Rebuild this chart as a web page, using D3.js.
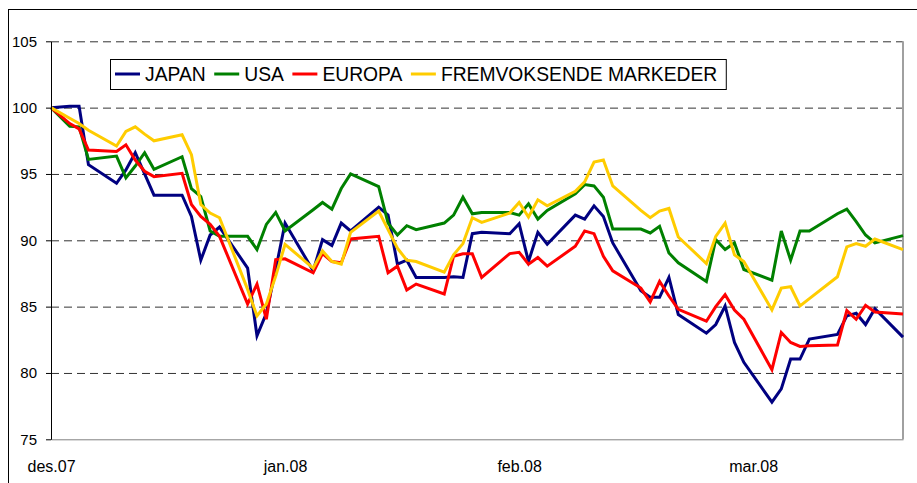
<!DOCTYPE html>
<html>
<head>
<meta charset="utf-8">
<script src="https://cdn.jsdelivr.net/npm/d3@7"></script>
<style>
  body { margin: 0; background: #fff; }
  svg { display: block; font-family: Arial, "Liberation Sans", sans-serif; }
</style>
</head>
<body>
<div id="wrapper"></div>
<script>
// Data (index 31.12.2007 = 100)
const dates = [
  "2007-12-31",
  "2008-01-02", "2008-01-03", "2008-01-04",
  "2008-01-07", "2008-01-08", "2008-01-09", "2008-01-10", "2008-01-11",
  "2008-01-14", "2008-01-15", "2008-01-16", "2008-01-17", "2008-01-18",
  "2008-01-21", "2008-01-22", "2008-01-23", "2008-01-24", "2008-01-25",
  "2008-01-28", "2008-01-29", "2008-01-30", "2008-01-31", "2008-02-01",
  "2008-02-04", "2008-02-05", "2008-02-06", "2008-02-07", "2008-02-08",
  "2008-02-11", "2008-02-12", "2008-02-13", "2008-02-14", "2008-02-15",
  "2008-02-18", "2008-02-19", "2008-02-20", "2008-02-21", "2008-02-22",
  "2008-02-25", "2008-02-26", "2008-02-27", "2008-02-28", "2008-02-29",
  "2008-03-03", "2008-03-04", "2008-03-05", "2008-03-06", "2008-03-07",
  "2008-03-10", "2008-03-11", "2008-03-12", "2008-03-13", "2008-03-14",
  "2008-03-17", "2008-03-18", "2008-03-19", "2008-03-20", "2008-03-21",
  "2008-03-24", "2008-03-25", "2008-03-26", "2008-03-27", "2008-03-28",
  "2008-03-31",
];
const japan = [
  100,
  100.1, 100.1, 95.7,
  94.3, 95.3, 96.6, 95.0, 93.4,
  93.4, 91.8, 88.5, 90.4, 91.0,
  87.9, 82.8, 84.5, 87.8, 91.3,
  87.7, 90.05, 89.6, 91.3, 90.7,
  92.5, 91.9, 88.2, 88.5, 87.2,
  87.2, 87.25, 87.2, 90.5, 90.6,
  90.5, 91.25, 88.4, 90.6, 89.7,
  91.9, 91.6, 92.6, 91.8, 89.8,
  86.2, 85.7, 85.7, 87.2, 84.4,
  83.0, 83.65, 85.05, 82.3, 80.8,
  77.8, 78.8, 81.05, 81.05, 82.55,
  82.9, 84.3, 84.5, 83.65, 84.85,
  82.7,
];
const usa = [
  100,
  98.6, 98.55, 96.1,
  96.35, 94.7, 95.6, 96.6, 95.35,
  96.3, 93.9, 93.3, 90.7, 90.3,
  90.3, 89.3, 91.2, 92.1, 90.7,
  92.3, 92.85, 92.35, 93.9, 95.0,
  94.05, 91.3, 90.4, 91.1, 90.8,
  91.3, 91.9, 93.25, 92.0, 92.1,
  92.1, 91.9, 92.75, 91.6, 92.25,
  93.5, 94.2, 94.1, 93.25, 90.85,
  90.85, 90.55, 91.05, 89.05, 88.3,
  86.9, 90.05, 89.3, 89.8, 87.8,
  87.0, 90.7, 88.5, 90.7, 90.7,
  92.0, 92.35, 91.4, 90.4, 89.8,
  90.35,
];
const europa = [
  100,
  98.8, 98.4, 96.8,
  96.7, 97.2, 96.05, 95.2, 94.8,
  95.05, 92.7, 91.8, 91.2, 90.3,
  85.2, 86.7, 84.05, 88.55, 88.6,
  87.55, 89.0, 88.4, 88.3, 90.1,
  90.3, 87.55, 88.05, 86.25, 86.7,
  85.95, 88.8, 88.98, 88.98, 87.2,
  89.0, 89.1, 88.2, 88.7, 88.05,
  89.55, 90.7, 90.5, 88.8, 87.7,
  86.4, 85.35, 86.9, 85.8, 84.8,
  83.9, 85.0, 85.9, 84.75, 84.05,
  80.25, 83.05, 82.3, 82.0, 82.05,
  82.1, 84.7, 84.05, 85.1, 84.6,
  84.45,
];
const fremvoksende = [
  100,
  99.2, 98.8, 98.3,
  97.1, 98.2, 98.55, 98.0, 97.5,
  97.95, 96.45, 92.7, 92.05, 91.7,
  86.3, 84.3, 85.2, 87.3, 89.7,
  87.9, 89.2, 88.4, 88.2, 90.6,
  92.2, 90.8, 89.4, 88.5, 88.4,
  87.6, 88.9, 89.75, 91.7, 91.35,
  92.05, 92.85, 91.75, 93.05, 92.6,
  93.7, 94.4, 95.9, 96.05, 94.1,
  92.25, 91.7, 92.2, 92.4, 90.25,
  88.25, 90.3, 91.3, 88.9, 88.4,
  84.75, 86.4, 86.5, 85.05, 85.6,
  87.25, 89.5, 89.75, 89.55, 90.1,
  89.3,
];
const seriesNames = ["JAPAN", "USA", "EUROPA", "FREMVOKSENDE MARKEDER"];
const seriesValues = [japan, usa, europa, fremvoksende];
const seriesColors = ["#000080", "#008000", "#ff0000", "#ffcc00"];
const yTicks = [75, 80, 85, 90, 95, 100, 105];
const xStart = "2007-12-31";
const xEnd = "2008-03-31";
const xTickDates = ["2007-12-31", "2008-01-25", "2008-02-19", "2008-03-15"];
const monthNames = ["jan", "feb", "mar", "apr", "mai", "jun", "jul", "aug", "sep", "okt", "nov", "des"];

const parseDate = d3.timeParse("%Y-%m-%d");
const formatTick = (d) => `${monthNames[d.getMonth()]}.${d3.timeFormat("%y")(d)}`;

// Chart dimensions
let dimensions = {
  width: 917,
  height: 483,
  margin: { top: 41.3, right: 14, bottom: 43.7, left: 51 },
};
dimensions.boundedWidth = dimensions.width - dimensions.margin.left - dimensions.margin.right;
dimensions.boundedHeight = dimensions.height - dimensions.margin.top - dimensions.margin.bottom;

const wrapper = d3
  .select("#wrapper")
  .append("svg")
  .attr("width", dimensions.width)
  .attr("height", dimensions.height);

// outer chart frame
wrapper
  .append("rect")
  .attr("x", 8.5)
  .attr("y", 9.5)
  .attr("width", 1000)
  .attr("height", 1000)
  .attr("fill", "none")
  .attr("stroke", "#000");

const bounds = wrapper
  .append("g")
  .attr("transform", `translate(${dimensions.margin.left},${dimensions.margin.top})`);

// Scales
const xScale = d3
  .scaleTime()
  .domain([parseDate(xStart), parseDate(xEnd)])
  .range([0, dimensions.boundedWidth]);
const yScale = d3
  .scaleLinear()
  .domain([75, 105])
  .range([dimensions.boundedHeight, 0]);

// Gridlines
const grid = bounds
  .append("g")
  .attr("class", "grid")
  .call(d3.axisLeft(yScale).tickValues(yTicks.filter((t) => t > 75)).tickSize(-dimensions.boundedWidth).tickFormat(""));
grid.select(".domain").remove();
grid
  .selectAll(".tick line")
  .attr("stroke", "#333")
  .attr("stroke-dasharray", "8,5");

// right border + bottom axis line
bounds
  .append("line")
  .attr("x1", dimensions.boundedWidth)
  .attr("x2", dimensions.boundedWidth)
  .attr("y1", 0)
  .attr("y2", dimensions.boundedHeight)
  .attr("stroke", "#a0a0a0")
  .attr("stroke-width", 2);

const xAxis = bounds
  .append("g")
  .attr("class", "x-axis")
  .attr("transform", `translate(0,${dimensions.boundedHeight})`)
  .call(
    d3.axisBottom(xScale)
      .tickValues(xTickDates.map(parseDate))
      .tickSize(0)
      .tickPadding(21)
      .tickFormat(formatTick)
  );
xAxis.select(".domain").attr("stroke", "#808080");
xAxis.selectAll("text").attr("font-size", 16).attr("fill", "#000").attr("font-family", "Arial, 'Liberation Sans', sans-serif");

// Lines
const lineGenerator = d3
  .line()
  .x((d) => xScale(d[0]))
  .y((d) => yScale(d[1]));

seriesValues.forEach((values, i) => {
  const points = dates.map((d, j) => [parseDate(d), values[j]]);
  bounds
    .append("path")
    .attr("class", "line")
    .attr("d", lineGenerator(points))
    .attr("fill", "none")
    .attr("stroke", seriesColors[i])
    .attr("stroke-width", 3);
});

// Y axis
const yAxis = bounds
  .append("g")
  .attr("class", "y-axis")
  .call(d3.axisLeft(yScale).tickValues(yTicks).tickSize(5).tickSizeOuter(0).tickPadding(9));
yAxis.select(".domain").attr("stroke", "#000");
yAxis.selectAll(".tick line").attr("stroke", "#000");
yAxis.selectAll("text").attr("font-size", 15).attr("fill", "#000").attr("font-family", "Arial, 'Liberation Sans', sans-serif");

// Legend
const legend = wrapper.append("g").attr("class", "legend");
const legendBox = legend
  .append("rect")
  .attr("x", 110.5)
  .attr("y", 59.5)
  .attr("height", 30)
  .attr("fill", "#fff")
  .attr("stroke", "#000");
let cursor = 115;
seriesNames.forEach((name, i) => {
  legend
    .append("line")
    .attr("x1", cursor)
    .attr("x2", cursor + 25)
    .attr("y1", 74)
    .attr("y2", 74)
    .attr("stroke", seriesColors[i])
    .attr("stroke-width", 3);
  const label = legend
    .append("text")
    .attr("x", cursor + 30)
    .attr("y", 80.8)
    .attr("font-size", 19.3)
    .attr("fill", "#000")
    .text(name);
  cursor += 30 + label.node().getComputedTextLength() + 8.5;
});
legendBox.attr("width", cursor - 8.5 + 9 - 110.5);
</script>
</body>
</html>
